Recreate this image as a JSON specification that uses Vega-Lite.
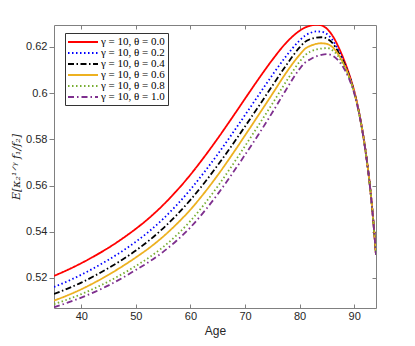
{
  "$schema": "https://vega.github.io/schema/vega-lite/v6.json",
  "width": 322,
  "height": 283,
  "autosize": {"type": "none"},
  "padding": {"left": 54, "top": 25, "right": 39, "bottom": 38},
  "background": "white",
  "config": {
    "view": {"stroke": "#808080", "strokeWidth": 1},
    "axis": {
      "labelFont": "Liberation Sans",
      "labelFontSize": 11,
      "labelColor": "#262626",
      "titleFont": "Liberation Sans",
      "titleFontSize": 12,
      "titleFontWeight": "normal",
      "titleColor": "#262626",
      "tickColor": "#808080",
      "domainColor": "#808080",
      "grid": false
    }
  },
  "datasets": {
    "curves": [
      {"age": 35, "series": "γ = 10, θ = 0.0", "value": 0.5209},
      {"age": 37.5, "series": "γ = 10, θ = 0.0", "value": 0.5235},
      {"age": 40, "series": "γ = 10, θ = 0.0", "value": 0.5264},
      {"age": 42.5, "series": "γ = 10, θ = 0.0", "value": 0.5296},
      {"age": 45, "series": "γ = 10, θ = 0.0", "value": 0.5331},
      {"age": 47.5, "series": "γ = 10, θ = 0.0", "value": 0.5370},
      {"age": 50, "series": "γ = 10, θ = 0.0", "value": 0.5413},
      {"age": 52.5, "series": "γ = 10, θ = 0.0", "value": 0.5461},
      {"age": 55, "series": "γ = 10, θ = 0.0", "value": 0.5516},
      {"age": 57.5, "series": "γ = 10, θ = 0.0", "value": 0.5578},
      {"age": 60, "series": "γ = 10, θ = 0.0", "value": 0.5647},
      {"age": 62.5, "series": "γ = 10, θ = 0.0", "value": 0.5723},
      {"age": 65, "series": "γ = 10, θ = 0.0", "value": 0.5804},
      {"age": 67.5, "series": "γ = 10, θ = 0.0", "value": 0.5889},
      {"age": 70, "series": "γ = 10, θ = 0.0", "value": 0.5976},
      {"age": 72.5, "series": "γ = 10, θ = 0.0", "value": 0.6062},
      {"age": 75, "series": "γ = 10, θ = 0.0", "value": 0.6144},
      {"age": 77.5, "series": "γ = 10, θ = 0.0", "value": 0.6217},
      {"age": 80, "series": "γ = 10, θ = 0.0", "value": 0.6270},
      {"age": 81, "series": "γ = 10, θ = 0.0", "value": 0.6284},
      {"age": 82, "series": "γ = 10, θ = 0.0", "value": 0.6292},
      {"age": 83, "series": "γ = 10, θ = 0.0", "value": 0.6296},
      {"age": 84, "series": "γ = 10, θ = 0.0", "value": 0.6293},
      {"age": 85, "series": "γ = 10, θ = 0.0", "value": 0.6279},
      {"age": 86, "series": "γ = 10, θ = 0.0", "value": 0.6250},
      {"age": 87, "series": "γ = 10, θ = 0.0", "value": 0.6206},
      {"age": 88, "series": "γ = 10, θ = 0.0", "value": 0.6152},
      {"age": 89, "series": "γ = 10, θ = 0.0", "value": 0.6088},
      {"age": 90, "series": "γ = 10, θ = 0.0", "value": 0.6010},
      {"age": 91, "series": "γ = 10, θ = 0.0", "value": 0.5905},
      {"age": 92, "series": "γ = 10, θ = 0.0", "value": 0.5765},
      {"age": 93, "series": "γ = 10, θ = 0.0", "value": 0.5575},
      {"age": 93.5, "series": "γ = 10, θ = 0.0", "value": 0.5450},
      {"age": 94, "series": "γ = 10, θ = 0.0", "value": 0.5300},

      {"age": 35, "series": "γ = 10, θ = 0.2", "value": 0.5161},
      {"age": 37.5, "series": "γ = 10, θ = 0.2", "value": 0.5186},
      {"age": 40, "series": "γ = 10, θ = 0.2", "value": 0.5214},
      {"age": 42.5, "series": "γ = 10, θ = 0.2", "value": 0.5245},
      {"age": 45, "series": "γ = 10, θ = 0.2", "value": 0.5279},
      {"age": 47.5, "series": "γ = 10, θ = 0.2", "value": 0.5316},
      {"age": 50, "series": "γ = 10, θ = 0.2", "value": 0.5357},
      {"age": 52.5, "series": "γ = 10, θ = 0.2", "value": 0.5403},
      {"age": 55, "series": "γ = 10, θ = 0.2", "value": 0.5456},
      {"age": 57.5, "series": "γ = 10, θ = 0.2", "value": 0.5516},
      {"age": 60, "series": "γ = 10, θ = 0.2", "value": 0.5583},
      {"age": 62.5, "series": "γ = 10, θ = 0.2", "value": 0.5657},
      {"age": 65, "series": "γ = 10, θ = 0.2", "value": 0.5736},
      {"age": 67.5, "series": "γ = 10, θ = 0.2", "value": 0.5819},
      {"age": 70, "series": "γ = 10, θ = 0.2", "value": 0.5905},
      {"age": 72.5, "series": "γ = 10, θ = 0.2", "value": 0.5992},
      {"age": 75, "series": "γ = 10, θ = 0.2", "value": 0.6078},
      {"age": 77.5, "series": "γ = 10, θ = 0.2", "value": 0.6159},
      {"age": 80, "series": "γ = 10, θ = 0.2", "value": 0.6228},
      {"age": 81, "series": "γ = 10, θ = 0.2", "value": 0.6249},
      {"age": 82, "series": "γ = 10, θ = 0.2", "value": 0.6261},
      {"age": 83, "series": "γ = 10, θ = 0.2", "value": 0.6267},
      {"age": 84, "series": "γ = 10, θ = 0.2", "value": 0.6266},
      {"age": 85, "series": "γ = 10, θ = 0.2", "value": 0.6256},
      {"age": 86, "series": "γ = 10, θ = 0.2", "value": 0.6231},
      {"age": 87, "series": "γ = 10, θ = 0.2", "value": 0.6191},
      {"age": 88, "series": "γ = 10, θ = 0.2", "value": 0.6142},
      {"age": 89, "series": "γ = 10, θ = 0.2", "value": 0.6083},
      {"age": 90, "series": "γ = 10, θ = 0.2", "value": 0.6008},
      {"age": 91, "series": "γ = 10, θ = 0.2", "value": 0.5904},
      {"age": 92, "series": "γ = 10, θ = 0.2", "value": 0.5765},
      {"age": 93, "series": "γ = 10, θ = 0.2", "value": 0.5575},
      {"age": 93.5, "series": "γ = 10, θ = 0.2", "value": 0.5450},
      {"age": 94, "series": "γ = 10, θ = 0.2", "value": 0.5300},

      {"age": 35, "series": "γ = 10, θ = 0.4", "value": 0.5131},
      {"age": 37.5, "series": "γ = 10, θ = 0.4", "value": 0.5154},
      {"age": 40, "series": "γ = 10, θ = 0.4", "value": 0.5180},
      {"age": 42.5, "series": "γ = 10, θ = 0.4", "value": 0.5210},
      {"age": 45, "series": "γ = 10, θ = 0.4", "value": 0.5243},
      {"age": 47.5, "series": "γ = 10, θ = 0.4", "value": 0.5279},
      {"age": 50, "series": "γ = 10, θ = 0.4", "value": 0.5319},
      {"age": 52.5, "series": "γ = 10, θ = 0.4", "value": 0.5364},
      {"age": 55, "series": "γ = 10, θ = 0.4", "value": 0.5415},
      {"age": 57.5, "series": "γ = 10, θ = 0.4", "value": 0.5473},
      {"age": 60, "series": "γ = 10, θ = 0.4", "value": 0.5538},
      {"age": 62.5, "series": "γ = 10, θ = 0.4", "value": 0.5610},
      {"age": 65, "series": "γ = 10, θ = 0.4", "value": 0.5688},
      {"age": 67.5, "series": "γ = 10, θ = 0.4", "value": 0.5770},
      {"age": 70, "series": "γ = 10, θ = 0.4", "value": 0.5856},
      {"age": 72.5, "series": "γ = 10, θ = 0.4", "value": 0.5943},
      {"age": 75, "series": "γ = 10, θ = 0.4", "value": 0.6032},
      {"age": 77.5, "series": "γ = 10, θ = 0.4", "value": 0.6119},
      {"age": 80, "series": "γ = 10, θ = 0.4", "value": 0.6198},
      {"age": 81, "series": "γ = 10, θ = 0.4", "value": 0.6222},
      {"age": 82, "series": "γ = 10, θ = 0.4", "value": 0.6234},
      {"age": 83, "series": "γ = 10, θ = 0.4", "value": 0.6240},
      {"age": 84, "series": "γ = 10, θ = 0.4", "value": 0.6242},
      {"age": 85, "series": "γ = 10, θ = 0.4", "value": 0.6236},
      {"age": 86, "series": "γ = 10, θ = 0.4", "value": 0.6218},
      {"age": 87, "series": "γ = 10, θ = 0.4", "value": 0.6182},
      {"age": 88, "series": "γ = 10, θ = 0.4", "value": 0.6137},
      {"age": 89, "series": "γ = 10, θ = 0.4", "value": 0.6080},
      {"age": 90, "series": "γ = 10, θ = 0.4", "value": 0.6006},
      {"age": 91, "series": "γ = 10, θ = 0.4", "value": 0.5903},
      {"age": 92, "series": "γ = 10, θ = 0.4", "value": 0.5764},
      {"age": 93, "series": "γ = 10, θ = 0.4", "value": 0.5574},
      {"age": 93.5, "series": "γ = 10, θ = 0.4", "value": 0.5449},
      {"age": 94, "series": "γ = 10, θ = 0.4", "value": 0.5300},

      {"age": 35, "series": "γ = 10, θ = 0.6", "value": 0.5102},
      {"age": 37.5, "series": "γ = 10, θ = 0.6", "value": 0.5125},
      {"age": 40, "series": "γ = 10, θ = 0.6", "value": 0.5151},
      {"age": 42.5, "series": "γ = 10, θ = 0.6", "value": 0.5181},
      {"age": 45, "series": "γ = 10, θ = 0.6", "value": 0.5214},
      {"age": 47.5, "series": "γ = 10, θ = 0.6", "value": 0.5250},
      {"age": 50, "series": "γ = 10, θ = 0.6", "value": 0.5289},
      {"age": 52.5, "series": "γ = 10, θ = 0.6", "value": 0.5331},
      {"age": 55, "series": "γ = 10, θ = 0.6", "value": 0.5379},
      {"age": 57.5, "series": "γ = 10, θ = 0.6", "value": 0.5434},
      {"age": 60, "series": "γ = 10, θ = 0.6", "value": 0.5496},
      {"age": 62.5, "series": "γ = 10, θ = 0.6", "value": 0.5567},
      {"age": 65, "series": "γ = 10, θ = 0.6", "value": 0.5645},
      {"age": 67.5, "series": "γ = 10, θ = 0.6", "value": 0.5729},
      {"age": 70, "series": "γ = 10, θ = 0.6", "value": 0.5817},
      {"age": 72.5, "series": "γ = 10, θ = 0.6", "value": 0.5906},
      {"age": 75, "series": "γ = 10, θ = 0.6", "value": 0.5996},
      {"age": 77.5, "series": "γ = 10, θ = 0.6", "value": 0.6087},
      {"age": 80, "series": "γ = 10, θ = 0.6", "value": 0.6166},
      {"age": 81, "series": "γ = 10, θ = 0.6", "value": 0.6192},
      {"age": 82, "series": "γ = 10, θ = 0.6", "value": 0.6205},
      {"age": 83, "series": "γ = 10, θ = 0.6", "value": 0.6213},
      {"age": 84, "series": "γ = 10, θ = 0.6", "value": 0.6216},
      {"age": 85, "series": "γ = 10, θ = 0.6", "value": 0.6213},
      {"age": 86, "series": "γ = 10, θ = 0.6", "value": 0.6200},
      {"age": 87, "series": "γ = 10, θ = 0.6", "value": 0.6171},
      {"age": 88, "series": "γ = 10, θ = 0.6", "value": 0.6130},
      {"age": 89, "series": "γ = 10, θ = 0.6", "value": 0.6076},
      {"age": 90, "series": "γ = 10, θ = 0.6", "value": 0.6004},
      {"age": 91, "series": "γ = 10, θ = 0.6", "value": 0.5902},
      {"age": 92, "series": "γ = 10, θ = 0.6", "value": 0.5763},
      {"age": 93, "series": "γ = 10, θ = 0.6", "value": 0.5573},
      {"age": 93.5, "series": "γ = 10, θ = 0.6", "value": 0.5448},
      {"age": 94, "series": "γ = 10, θ = 0.6", "value": 0.5300},

      {"age": 35, "series": "γ = 10, θ = 0.8", "value": 0.5087},
      {"age": 37.5, "series": "γ = 10, θ = 0.8", "value": 0.5107},
      {"age": 40, "series": "γ = 10, θ = 0.8", "value": 0.5130},
      {"age": 42.5, "series": "γ = 10, θ = 0.8", "value": 0.5156},
      {"age": 45, "series": "γ = 10, θ = 0.8", "value": 0.5185},
      {"age": 47.5, "series": "γ = 10, θ = 0.8", "value": 0.5217},
      {"age": 50, "series": "γ = 10, θ = 0.8", "value": 0.5252},
      {"age": 52.5, "series": "γ = 10, θ = 0.8", "value": 0.5290},
      {"age": 55, "series": "γ = 10, θ = 0.8", "value": 0.5334},
      {"age": 57.5, "series": "γ = 10, θ = 0.8", "value": 0.5386},
      {"age": 60, "series": "γ = 10, θ = 0.8", "value": 0.5447},
      {"age": 62.5, "series": "γ = 10, θ = 0.8", "value": 0.5518},
      {"age": 65, "series": "γ = 10, θ = 0.8", "value": 0.5597},
      {"age": 67.5, "series": "γ = 10, θ = 0.8", "value": 0.5682},
      {"age": 70, "series": "γ = 10, θ = 0.8", "value": 0.5771},
      {"age": 72.5, "series": "γ = 10, θ = 0.8", "value": 0.5862},
      {"age": 75, "series": "γ = 10, θ = 0.8", "value": 0.5954},
      {"age": 77.5, "series": "γ = 10, θ = 0.8", "value": 0.6049},
      {"age": 80, "series": "γ = 10, θ = 0.8", "value": 0.6136},
      {"age": 81, "series": "γ = 10, θ = 0.8", "value": 0.6164},
      {"age": 82, "series": "γ = 10, θ = 0.8", "value": 0.6180},
      {"age": 83, "series": "γ = 10, θ = 0.8", "value": 0.6189},
      {"age": 84, "series": "γ = 10, θ = 0.8", "value": 0.6193},
      {"age": 85, "series": "γ = 10, θ = 0.8", "value": 0.6195},
      {"age": 86, "series": "γ = 10, θ = 0.8", "value": 0.6186},
      {"age": 87, "series": "γ = 10, θ = 0.8", "value": 0.6162},
      {"age": 88, "series": "γ = 10, θ = 0.8", "value": 0.6124},
      {"age": 89, "series": "γ = 10, θ = 0.8", "value": 0.6072},
      {"age": 90, "series": "γ = 10, θ = 0.8", "value": 0.6002},
      {"age": 91, "series": "γ = 10, θ = 0.8", "value": 0.5901},
      {"age": 92, "series": "γ = 10, θ = 0.8", "value": 0.5762},
      {"age": 93, "series": "γ = 10, θ = 0.8", "value": 0.5572},
      {"age": 93.5, "series": "γ = 10, θ = 0.8", "value": 0.5447},
      {"age": 94, "series": "γ = 10, θ = 0.8", "value": 0.5300},

      {"age": 35, "series": "γ = 10, θ = 1.0", "value": 0.5073},
      {"age": 37.5, "series": "γ = 10, θ = 1.0", "value": 0.5093},
      {"age": 40, "series": "γ = 10, θ = 1.0", "value": 0.5115},
      {"age": 42.5, "series": "γ = 10, θ = 1.0", "value": 0.5140},
      {"age": 45, "series": "γ = 10, θ = 1.0", "value": 0.5168},
      {"age": 47.5, "series": "γ = 10, θ = 1.0", "value": 0.5200},
      {"age": 50, "series": "γ = 10, θ = 1.0", "value": 0.5235},
      {"age": 52.5, "series": "γ = 10, θ = 1.0", "value": 0.5271},
      {"age": 55, "series": "γ = 10, θ = 1.0", "value": 0.5313},
      {"age": 57.5, "series": "γ = 10, θ = 1.0", "value": 0.5362},
      {"age": 60, "series": "γ = 10, θ = 1.0", "value": 0.5419},
      {"age": 62.5, "series": "γ = 10, θ = 1.0", "value": 0.5487},
      {"age": 65, "series": "γ = 10, θ = 1.0", "value": 0.5563},
      {"age": 67.5, "series": "γ = 10, θ = 1.0", "value": 0.5646},
      {"age": 70, "series": "γ = 10, θ = 1.0", "value": 0.5733},
      {"age": 72.5, "series": "γ = 10, θ = 1.0", "value": 0.5822},
      {"age": 75, "series": "γ = 10, θ = 1.0", "value": 0.5916},
      {"age": 77.5, "series": "γ = 10, θ = 1.0", "value": 0.6014},
      {"age": 80, "series": "γ = 10, θ = 1.0", "value": 0.6105},
      {"age": 81, "series": "γ = 10, θ = 1.0", "value": 0.6132},
      {"age": 82, "series": "γ = 10, θ = 1.0", "value": 0.6147},
      {"age": 83, "series": "γ = 10, θ = 1.0", "value": 0.6159},
      {"age": 84, "series": "γ = 10, θ = 1.0", "value": 0.6166},
      {"age": 85, "series": "γ = 10, θ = 1.0", "value": 0.6169},
      {"age": 86, "series": "γ = 10, θ = 1.0", "value": 0.6163},
      {"age": 87, "series": "γ = 10, θ = 1.0", "value": 0.6144},
      {"age": 88, "series": "γ = 10, θ = 1.0", "value": 0.6112},
      {"age": 89, "series": "γ = 10, θ = 1.0", "value": 0.6066},
      {"age": 90, "series": "γ = 10, θ = 1.0", "value": 0.6000},
      {"age": 91, "series": "γ = 10, θ = 1.0", "value": 0.5900},
      {"age": 92, "series": "γ = 10, θ = 1.0", "value": 0.5761},
      {"age": 93, "series": "γ = 10, θ = 1.0", "value": 0.5571},
      {"age": 93.5, "series": "γ = 10, θ = 1.0", "value": 0.5446},
      {"age": 94, "series": "γ = 10, θ = 1.0", "value": 0.5300}
    ]
  },
  "data": {"name": "curves"},
  "layer": [
    {
      "mark": {"type": "line", "strokeWidth": 1.8, "clip": true, "interpolate": "monotone"},
      "encoding": {
        "x": {
          "field": "age", "type": "quantitative",
          "scale": {"domain": [35, 94], "nice": false, "zero": false},
          "axis": {"title": "Age", "values": [40, 50, 60, 70, 80, 90], "tickSize": -4, "labelPadding": 6, "domain": false, "titlePadding": 4}
        },
        "y": {
          "field": "value", "type": "quantitative",
          "scale": {"domain": [0.507, 0.6295], "nice": false, "zero": false},
          "axis": {
            "title": "E[κ₂¹ᐟᵞ f₁/f₂]", "titleFont": "DejaVu Serif", "titleFontStyle": "italic", "titleFontSize": 11,
            "values": [0.52, 0.54, 0.56, 0.58, 0.6, 0.62], "format": ".2~f",
            "tickSize": 5, "labelPadding": 2, "domain": false, "titlePadding": 4
          }
        },
        "color": {
          "field": "series", "type": "nominal",
          "scale": {"range": ["#FF0000", "#0000FF", "#000000", "#EDB120", "#77AC30", "#7E2F8E"]},
          "legend": {
            "title": null, "orient": "none", "legendX": 11, "legendY": 8,
            "strokeColor": "#333333", "fillColor": "white", "padding": 3,
            "symbolType": "M-3,0H3", "symbolSize": 100, "symbolStrokeWidth": 2, "symbolOffset": 9,
            "labelFont": "Liberation Serif", "labelFontSize": 11, "labelColor": "#000000", "labelOffset": 12,
            "rowPadding": 0
          }
        },
        "strokeDash": {
          "field": "series", "type": "nominal",
          "scale": {"range": [[1, 0], [1.5, 2.5], [6, 2.5, 1.5, 2.5], [1, 0], [1.5, 2.5], [6, 3, 1.5, 3]]},
          "legend": {
            "title": null, "orient": "none", "legendX": 11, "legendY": 8,
            "strokeColor": "#333333", "fillColor": "white", "padding": 3,
            "symbolType": "M-3,0H3", "symbolSize": 100, "symbolStrokeWidth": 2, "symbolOffset": 9,
            "labelFont": "Liberation Serif", "labelFontSize": 11, "labelColor": "#000000", "labelOffset": 12,
            "rowPadding": 0
          }
        }
      }
    },
    {
      "mark": {"type": "line", "opacity": 0, "clip": true},
      "encoding": {
        "x": {
          "field": "age", "type": "quantitative",
          "scale": {"domain": [35, 94], "nice": false, "zero": false},
          "axis": {"orient": "top", "title": null, "labels": false, "values": [40, 50, 60, 70, 80, 90], "tickSize": -4, "domain": false}
        },
        "y": {
          "field": "value", "type": "quantitative",
          "scale": {"domain": [0.507, 0.6295], "nice": false, "zero": false},
          "axis": {"orient": "right", "title": null, "labels": false, "values": [0.52, 0.54, 0.56, 0.58, 0.6, 0.62], "tickSize": -4, "domain": false}
        },
        "detail": {"field": "series", "type": "nominal"}
      }
    }
  ],
  "resolve": {"axis": {"x": "independent", "y": "independent"}}
}
